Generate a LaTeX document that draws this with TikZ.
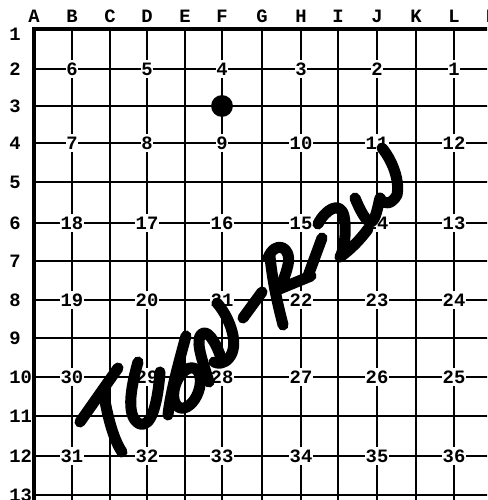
\documentclass[tikz,border=0pt]{standalone}
\usepackage{fontspec}
\setmonofont{Liberation Mono}
\usetikzlibrary{positioning}
\tikzset{
  gridline/.style={line width=2pt},
  tagfont/.style={font=\ttfamily\bfseries\fontsize{14}{14}\selectfont},
  coltag/.style={tagfont,inner sep=0pt},
  rowtag/.style={tagfont,inner sep=0pt,anchor=west},
  cellnum/.style={tagfont,fill=white,inner xsep=0.4pt,inner ysep=1.8pt},
  scrawl/.style={line width=8.2pt,line cap=round,line join=round},
}

\begin{document}
\begin{tikzpicture}[x=0.0261cm,y=-0.0261cm]
\clip (0,0) rectangle (487,500);
% board columns and rows (px of the scan)
\foreach \l/\x in {A/34,B/72,C/110,D/147,E/185,F/222,G/262,H/301,I/338,J/377,K/416,L/454,M/492}
  \coordinate (c\l) at (\x,16);
\foreach \r/\y in {1/29,2/69,3/106,4/143,5/182,6/223,7/261,8/300,9/338,10/377,11/416,12/456,13/495}
  \coordinate (r\r) at (9,\y);
% grid
\foreach \l in {B,C,D,E,F,G,H,I,J,K,L,M}
  \draw[gridline] (c\l |- r1) -- ++(0,490);
\foreach \r in {2,...,13}
  \draw[gridline] (cA |- r\r) -- ++(470,0);
\draw[line width=2.8pt] ([yshift=-20cm]cA |- r1) -- (cA |- r1) -- ++(470,0);
% letters and row numbers
\foreach \l in {A,...,M}
  \node[coltag] (lab\l) at (c\l) {\l};
\foreach \r in {1,...,13}
  \node[rowtag] (row\r) at ([yshift={(\r==1)*-0.13cm}]r\r) {\r};
% numbered points, back and forth
\foreach \k/\r in {0/2,1/4,2/6,3/8,4/10,5/12}
  \foreach \j/\l in {0/B,1/D,2/F,3/H,4/J,5/L}{
    \pgfmathtruncatemacro\n{mod(\k,2)==0 ? 6*\k+6-\j : 6*\k+1+\j}
    \node[cellnum] (n\n) at (c\l |- r\r) {\n};
  }
\node[circle,fill,minimum size=0.57cm,inner sep=0pt] (stone) at (cF |- r3) {};
% handwriting
\draw[scrawl] (80,422) -- (118,368);
\draw[scrawl] (103,390) .. controls (108,420) and (114,440) .. (122,452);
\draw[scrawl] (138,362) .. controls (130,390) and (126,418) .. (140,424)
  .. controls (152,428) and (158,400) .. (160,372);
\draw[scrawl] (186,336) .. controls (178,365) and (170,395) .. (168,415);
\draw[scrawl] (187,388) ellipse [x radius=12,y radius=21,rotate=-20];
\draw[scrawl] (209,382) .. controls (204,365) and (196,345) .. (200,336)
  .. controls (206,326) and (216,342) .. (221,358);
\draw[scrawl] (217,303) .. controls (230,318) and (240,345) .. (229,358)
  .. controls (224,364) and (218,364) .. (214,362);
\draw[scrawl] (243,318) -- (262,292);
\draw[scrawl] (270,257) .. controls (273,285) and (278,305) .. (283,325);
\draw[scrawl] (268,258) .. controls (275,240) and (292,246) .. (288,265)
  .. controls (285,278) and (280,288) .. (277,290) -- (311,276);
\draw[scrawl] (308,276) -- (322,238);
\draw[scrawl] (318,224) .. controls (325,210) and (340,200) .. (344,216)
  .. controls (347,232) and (344,250) .. (340,257)
  .. controls (350,250) and (360,240) .. (368,229);
\draw[scrawl] (355,198) .. controls (360,210) and (366,222) .. (371,222)
  .. controls (376,220) and (378,205) .. (380,198)
  .. controls (384,206) and (392,204) .. (397,195)
  .. controls (400,180) and (392,160) .. (382,148);
\end{tikzpicture}
\end{document}
